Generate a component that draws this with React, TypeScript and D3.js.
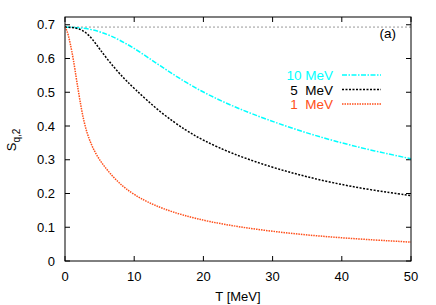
import { useEffect, useRef } from 'react';
import * as d3 from 'd3';

const T10 = [0, 2, 4, 6.5, 9.9, 13.75, 17.6, 21, 25, 29.2, 34, 38.8, 44, 50];
const S10 = [0.693, 0.692, 0.686, 0.670, 0.633, 0.578, 0.527, 0.489, 0.452, 0.419, 0.385, 0.356, 0.329, 0.303];

const T5 = [0, 1, 2, 3, 4, 5, 6.5, 8, 9.9, 13.75, 17.6, 20, 24, 29.2, 34, 38.8, 44, 50];
const S5 = [0.693, 0.692, 0.689, 0.678, 0.657, 0.628, 0.588, 0.552, 0.513, 0.44, 0.385, 0.357, 0.319, 0.282, 0.254, 0.231, 0.211, 0.194];

const T1 = [0, 0.25, 0.5, 0.75, 1.2, 1.7, 2.4, 3.1, 4.3, 5.8, 7.7, 9.9, 13.75, 20.5, 30.1, 39.8, 50];
const S1 = [0.693, 0.685, 0.668, 0.645, 0.6, 0.532, 0.445, 0.38, 0.32, 0.276, 0.232, 0.196, 0.155, 0.115, 0.086, 0.068, 0.056];

const X_TICKS = [0, 10, 20, 30, 40, 50];
const Y_TICKS = [0, 0.1, 0.2, 0.3, 0.4, 0.5, 0.6, 0.7];
const LEGEND = ['10 MeV', '5  MeV', '1  MeV'];
const LN2 = Math.log(2);

const SERIES = [
  { t: T10, s: S10, color: '#00ffff', dash: '5,1.5,1.5,1.5' },
  { t: T5, s: S5, color: '#000000', dash: '2,1.5' },
  { t: T1, s: S1, color: '#ff4f1a', dash: '1.5,1' },
];

export default function App() {
  const svgRef = useRef(null);
  const width = 436;
  const height = 305;

  useEffect(() => {
    const margin = { top: 17, right: 25, bottom: 44, left: 65 };
    const W = width - margin.left - margin.right;
    const H = height - margin.top - margin.bottom;
    const font = 'Liberation Sans, Arial, sans-serif';

    const svg = d3.select(svgRef.current);
    svg.selectAll('*').remove();
    const g = svg.append('g').attr('transform', `translate(${margin.left},${margin.top})`);

    const x = d3.scaleLinear().domain([0, 50]).range([0, W]);
    const y = d3.scaleLinear().domain([0, 0.723]).range([H, 0]);

    // ln2 reference line
    g.append('line')
      .attr('x1', 0).attr('x2', W).attr('y1', y(LN2)).attr('y2', y(LN2))
      .attr('stroke', '#999').attr('stroke-width', 1).attr('stroke-dasharray', '2,2');

    // ticks (inward, mirrored)
    const tl = 5;
    X_TICKS.forEach(v => {
      g.append('line').attr('x1', x(v)).attr('x2', x(v)).attr('y1', H).attr('y2', H - tl).attr('stroke', '#000');
      g.append('line').attr('x1', x(v)).attr('x2', x(v)).attr('y1', 0).attr('y2', tl).attr('stroke', '#000');
      g.append('text').attr('x', x(v)).attr('y', H + 20)
        .attr('text-anchor', 'middle').attr('font-family', font).attr('font-size', 13)
        .text(String(v));
    });
    Y_TICKS.forEach(v => {
      g.append('line').attr('x1', 0).attr('x2', tl).attr('y1', y(v)).attr('y2', y(v)).attr('stroke', '#000');
      g.append('line').attr('x1', W).attr('x2', W - tl).attr('y1', y(v)).attr('y2', y(v)).attr('stroke', '#000');
      g.append('text').attr('x', -10).attr('y', y(v) + 4.5)
        .attr('text-anchor', 'end').attr('font-family', font).attr('font-size', 13)
        .text(v === 0 ? '0' : v.toFixed(1));
    });

    // curves
    SERIES.forEach(sr => {
      const pts = sr.t.map((t, i) => [t, sr.s[i]]);
      const line = d3.line().x(d => x(d[0])).y(d => y(d[1])).curve(d3.curveBasis);
      g.append('path').attr('d', line(pts))
        .attr('fill', 'none').attr('stroke', sr.color).attr('stroke-width', 1.5)
        .attr('stroke-dasharray', sr.dash);
    });

    // frame
    g.append('rect').attr('width', W).attr('height', H)
      .attr('fill', 'none').attr('stroke', '#000').attr('stroke-width', 1);

    // legend
    LEGEND.forEach((lab, i) => {
      const ly = 75 - margin.top + i * 14.5;
      g.append('text').attr('x', 333 - margin.left).attr('y', ly + 5)
        .attr('text-anchor', 'end').attr('font-family', font).attr('font-size', 13.5)
        .attr('fill', SERIES[i].color).style('white-space', 'pre')
        .text(lab);
      g.append('line').attr('x1', 342 - margin.left).attr('x2', 381 - margin.left)
        .attr('y1', ly).attr('y2', ly)
        .attr('stroke', SERIES[i].color).attr('stroke-width', 1.5)
        .attr('stroke-dasharray', SERIES[i].dash);
    });

    g.append('text').attr('x', 396 - margin.left).attr('y', 38 - margin.top)
      .attr('text-anchor', 'end').attr('font-family', font).attr('font-size', 13.5)
      .text('(a)');

    // axis labels
    svg.append('text').attr('x', margin.left + W / 2).attr('y', 301)
      .attr('text-anchor', 'middle').attr('font-family', font).attr('font-size', 13)
      .text('T [MeV]');

    const yl = svg.append('text').attr('transform', 'translate(16,140) rotate(-90)')
      .attr('text-anchor', 'middle').attr('font-family', font).attr('font-size', 13);
    yl.append('tspan').text('S');
    yl.append('tspan').attr('font-size', 10).attr('dy', 4).text('q,2');
  }, []);

  return (
    <svg ref={svgRef} width={width} height={height}
      style={{ position: 'absolute', left: 0, top: 0, background: '#fff' }} />
  );
}
